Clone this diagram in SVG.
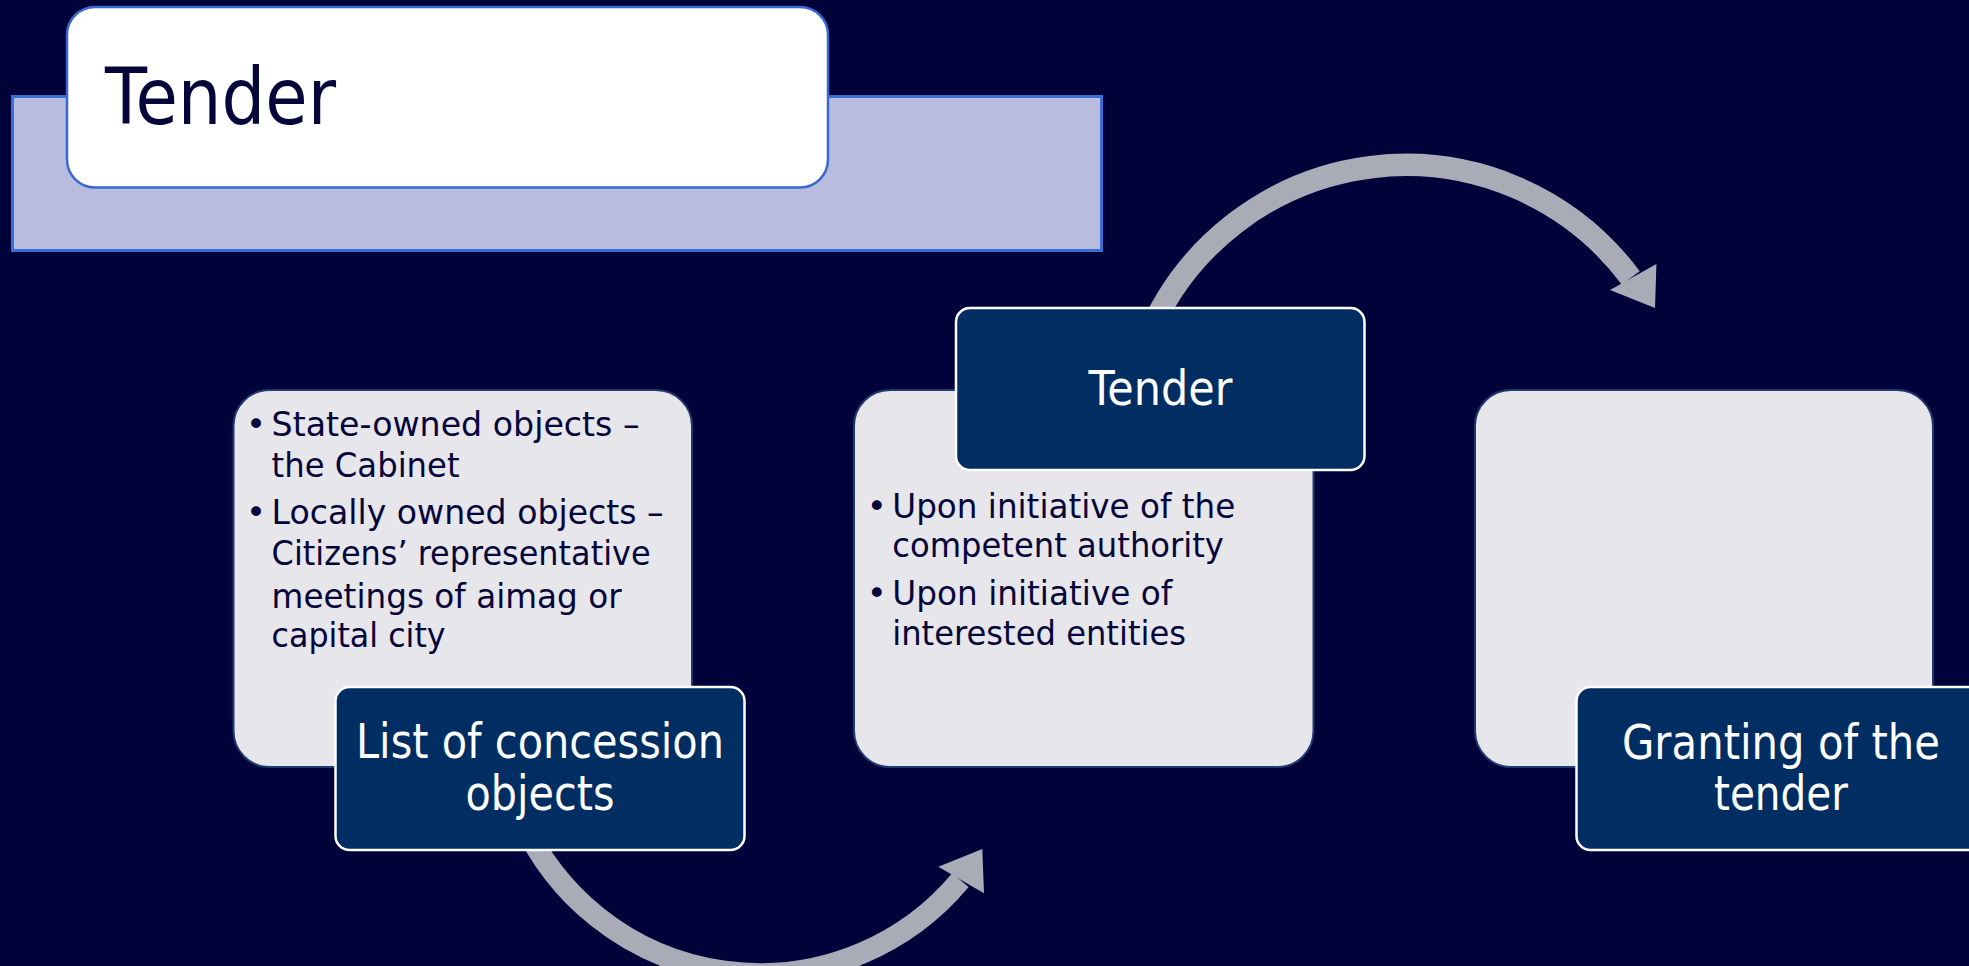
<svg xmlns="http://www.w3.org/2000/svg" width="1969" height="966" viewBox="0 0 1969 966">
<style>
.t{font-family:"DejaVu Sans",Verdana,sans-serif}
.body{font-size:34px;fill:#05053A}
.lbl{font-size:48px;fill:#FFFFFF;text-anchor:middle}
.card{fill:#E6E6EB;stroke:#1E3A6E;stroke-width:2}
.tag{fill:#002D62;stroke:#FFFFFF;stroke-width:2.5}
.arc{fill:none;stroke:#A9ABB7}
.head{fill:#A9ABB7}
</style>
<rect x="0" y="0" width="1969" height="966" fill="#00023A"/>
<g id="title">
<rect x="12.5" y="96.5" width="1089" height="154" fill="#B8BDE0" stroke="#3C6FD6" stroke-width="3"/>
<rect x="67" y="7" width="761" height="180.5" rx="28" fill="#FFFFFF" stroke="#3A68D0" stroke-width="2.5"/>
<text class="t" x="105" y="124" font-size="79" fill="#05053A" textLength="231" lengthAdjust="spacingAndGlyphs">Tender</text>
</g>
<g id="connectors">
<path class="arc" stroke-width="22.5" d="M 1146.4 340 A 280 280 0 0 1 1630.7 277.9"/>
<polygon class="head" points="1656.4,264 1655,308 1610,290"/>
<path class="arc" stroke-width="21.5" d="M 522 820 A 261 261 0 0 0 960.4 880.2"/>
<polygon class="head" points="938.3,866.7 982.3,849 984,893.3"/>
</g>
<g id="node-list">
<rect class="card" x="233.5" y="390" width="458.5" height="377" rx="36"/>
<text class="t body" x="246" y="435.5">•</text>
<text class="t body" x="271.6" y="435.5" textLength="368" lengthAdjust="spacingAndGlyphs">State-owned objects –</text>
<text class="t body" x="271.6" y="477" textLength="188" lengthAdjust="spacingAndGlyphs">the Cabinet</text>
<text class="t body" x="246" y="524">•</text>
<text class="t body" x="271.6" y="524" textLength="392" lengthAdjust="spacingAndGlyphs">Locally owned objects –</text>
<text class="t body" x="271.6" y="565" textLength="379" lengthAdjust="spacingAndGlyphs">Citizens’ representative</text>
<text class="t body" x="271.6" y="607.5" textLength="350" lengthAdjust="spacingAndGlyphs">meetings of aimag or</text>
<text class="t body" x="271.6" y="646.5" textLength="174" lengthAdjust="spacingAndGlyphs">capital city</text>
<rect class="tag" x="335.5" y="687" width="409" height="163" rx="14"/>
<text class="t lbl" x="540" y="758" textLength="368" lengthAdjust="spacingAndGlyphs">List of concession</text>
<text class="t lbl" x="540" y="810" textLength="149" lengthAdjust="spacingAndGlyphs">objects</text>
</g>
<g id="node-tender">
<rect class="card" x="854" y="390" width="459.5" height="377" rx="36"/>
<text class="t body" x="866.7" y="517.5">•</text>
<text class="t body" x="892.3" y="517.5" textLength="343" lengthAdjust="spacingAndGlyphs">Upon initiative of the</text>
<text class="t body" x="892.3" y="556.5" textLength="331.6" lengthAdjust="spacingAndGlyphs">competent authority</text>
<text class="t body" x="866.7" y="605">•</text>
<text class="t body" x="892.3" y="605" textLength="280" lengthAdjust="spacingAndGlyphs">Upon initiative of</text>
<text class="t body" x="892.3" y="644.5" textLength="293.7" lengthAdjust="spacingAndGlyphs">interested entities</text>
<rect class="tag" x="956" y="308" width="408.5" height="162" rx="14"/>
<text class="t lbl" x="1160.4" y="405" textLength="144" lengthAdjust="spacingAndGlyphs">Tender</text>
</g>
<g id="node-granting">
<rect class="card" x="1475" y="390" width="458" height="377" rx="36"/>
<rect class="tag" x="1576.5" y="687" width="410" height="163" rx="14"/>
<text class="t lbl" x="1781" y="758.5" textLength="318" lengthAdjust="spacingAndGlyphs">Granting of the</text>
<text class="t lbl" x="1781" y="810" textLength="134" lengthAdjust="spacingAndGlyphs">tender</text>
</g>
</svg>
